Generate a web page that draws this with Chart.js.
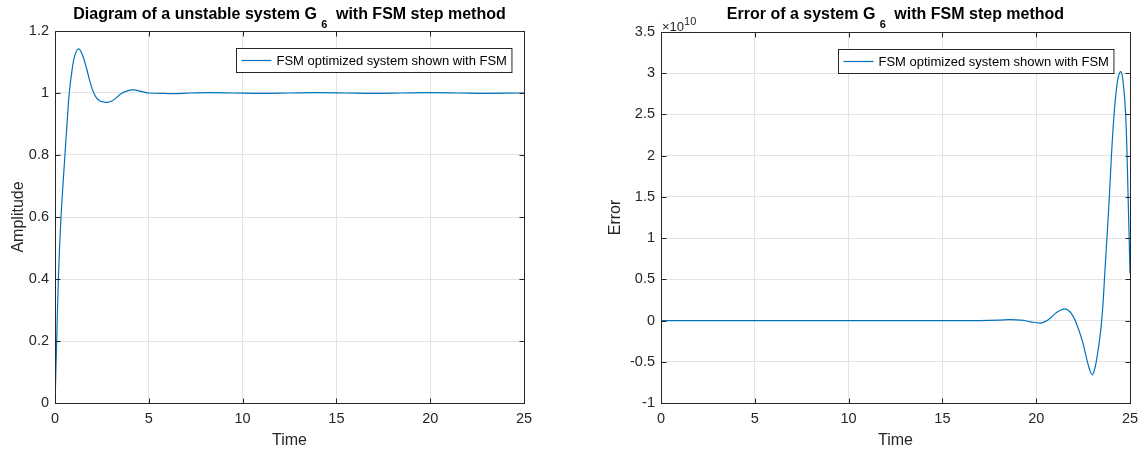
<!DOCTYPE html>
<html>
<head>
<meta charset="utf-8">
<script src="https://cdn.jsdelivr.net/npm/chart.js@4.4.1/dist/chart.umd.min.js"></script>
<style>
  body { margin: 0; background: #fff; }
  .box { position: absolute; top: 0; height: 454px; }
</style>
</head>
<body>
<div class="box" style="left:0;width:574px"><canvas id="stepChart" width="574" height="454"></canvas></div>
<div class="box" style="left:574px;width:573px"><canvas id="errorChart" width="573" height="454"></canvas></div>
<script>
// --- data ---
const timeTicks = [0, 5, 10, 15, 20, 25];
const amplitudeTicks = [0, 0.2, 0.4, 0.6, 0.8, 1, 1.2];
const errorTicks = [-1, -0.5, 0, 0.5, 1, 1.5, 2, 2.5, 3, 3.5]; // x 10^10

const stepTime = [0, 0.09, 0.18, 0.32, 0.53, 0.64, 0.76, 0.9, 1.05, 1.25, 1.45, 1.7, 1.85, 2.0, 2.2, 2.4, 2.6, 2.81, 3.05, 3.3, 3.5, 3.85, 4.2, 4.6, 5.0, 5.6, 6.3, 7.2, 8.2, 9.5, 11, 12.5, 14, 15.5, 17, 18.5, 20, 21.5, 23, 25];
const stepAmplitude = [0, 0.2, 0.4, 0.6, 0.8, 0.9, 1.0, 1.07, 1.12, 1.142, 1.125, 1.075, 1.04, 1.01, 0.985, 0.974, 0.971, 0.97, 0.975, 0.986, 0.997, 1.007, 1.01, 1.005, 1.0, 0.999, 0.998, 1.0, 1.001, 1.0, 0.999, 1.0, 1.001, 1.0, 0.999, 1.0, 1.001, 1.0, 0.999, 1.0];

const errorTime = [0, 5, 10, 15, 17, 18, 18.6, 19.2, 19.7, 20.2, 20.5, 20.8, 21.1, 21.48, 21.7, 21.86, 22.08, 22.45, 22.73, 22.87, 22.99, 23.1, 23.2, 23.35, 23.47, 23.56, 23.65, 23.77, 23.9, 24.01, 24.15, 24.25, 24.37, 24.5, 24.62, 24.77, 24.9, 25];
const errorE10 = [0, 0, 0, 0, 0, 0.005, 0.012, 0.006, -0.015, -0.03, -0.01, 0.04, 0.1, 0.142, 0.125, 0.09, 0, -0.24, -0.5, -0.61, -0.659, -0.6, -0.5, -0.28, -0.05, 0.2, 0.55, 1.0, 1.5, 2.0, 2.5, 2.75, 2.95, 3.02, 2.92, 2.5, 1.5, 0.57];

const seriesLabel = 'FSM optimized system shown with FSM';

const FONT = "'Liberation Sans', Arial, Helvetica, sans-serif";
const INK = '#262626';
const LINE = '#0072BD';
const GRID = '#e3e3e3';

// matlab-ish frame: box, inward ticks, title with subscript, legend, exponent
const matlabFrame = {
  id: 'matlabFrame',
  afterDraw(chart, args, opts) {
    const { ctx, chartArea: a, scales: { x, y } } = chart;
    const L = Math.round(a.left) + 0.5, R = Math.round(a.right) + 0.5;
    const T = Math.round(a.top) + 0.5, B = Math.round(a.bottom) + 0.5;
    ctx.save();
    ctx.strokeStyle = INK;
    ctx.lineWidth = 1;
    ctx.beginPath();
    x.ticks.forEach(t => {
      const px = Math.round(x.getPixelForValue(t.value)) + 0.5;
      ctx.moveTo(px, B); ctx.lineTo(px, B - 5);
      ctx.moveTo(px, T); ctx.lineTo(px, T + 5);
    });
    y.ticks.forEach(t => {
      const py = Math.round(y.getPixelForValue(t.value)) + 0.5;
      ctx.moveTo(L, py); ctx.lineTo(L + 5, py);
      ctx.moveTo(R, py); ctx.lineTo(R - 5, py);
    });
    ctx.stroke();
    ctx.strokeRect(L, T, R - L, B - T);

    // title with subscript
    ctx.fillStyle = '#000';
    ctx.textBaseline = 'alphabetic';
    ctx.textAlign = 'left';
    const big = 'bold 16px ' + FONT, small = 'bold 11px ' + FONT;
    ctx.font = big;
    const w1 = ctx.measureText(opts.title[0]).width;
    const w3 = ctx.measureText(opts.title[2]).width;
    ctx.font = small;
    const w2 = ctx.measureText(opts.title[1]).width;
    const cx = (a.left + a.right) / 2;
    const tx = cx - (w1 + w2 + 4 + w3) / 2;
    ctx.font = big;
    ctx.fillText(opts.title[0], tx, 19);
    ctx.font = small;
    ctx.fillText(opts.title[1], tx + w1, 28);
    ctx.font = big;
    ctx.fillText(opts.title[2], tx + w1 + w2 + 4, 19);

    // legend box
    ctx.font = '13px ' + FONT;
    const lw = ctx.measureText(seriesLabel).width;
    const bw = lw + 45, bh = 24;
    const bx = Math.round(a.right - opts.legendGap - bw) + 0.5;
    const by = Math.round(a.top + 17) + 0.5;
    ctx.fillStyle = '#fff';
    ctx.fillRect(bx, by, bw, bh);
    ctx.strokeStyle = INK;
    ctx.strokeRect(bx, by, bw, bh);
    ctx.strokeStyle = LINE;
    ctx.lineWidth = 1.2;
    ctx.beginPath();
    ctx.moveTo(bx + 5, by + bh / 2);
    ctx.lineTo(bx + 35, by + bh / 2);
    ctx.stroke();
    ctx.fillStyle = '#000';
    ctx.textBaseline = 'middle';
    ctx.fillText(seriesLabel, bx + 40, by + bh / 2 + 1);

    // exponent label
    if (opts.exponent) {
      ctx.fillStyle = INK;
      ctx.textBaseline = 'alphabetic';
      ctx.font = '13px ' + FONT;
      const ex = a.left + 1;
      ctx.fillText('\u00d710', ex, a.top - 1);
      const ew = ctx.measureText('\u00d710').width;
      ctx.font = '11px ' + FONT;
      ctx.fillText(opts.exponent, ex + ew, a.top - 7);
    }
    ctx.restore();
  }
};

function fmt(v) {
  return String(Number(v.toFixed(2)));
}

function makeChart(id, xs, ys, yTicks, yMin, yMax, yTitle, frame, layoutPad, yWidth, yTitlePad) {
  const ctx = document.getElementById(id).getContext('2d');
  return new Chart(ctx, {
    type: 'line',
    data: {
      datasets: [{
        label: seriesLabel,
        data: xs.map((t, i) => ({ x: t, y: ys[i] })),
        borderColor: LINE,
        borderWidth: 1.2,
        pointRadius: 0,
        fill: false,
        tension: 0.35
      }]
    },
    options: {
      responsive: false,
      animation: false,
      layout: { padding: layoutPad },
      plugins: {
        legend: { display: false },
        title: { display: false },
        tooltip: { enabled: false },
        matlabFrame: frame
      },
      scales: {
        x: {
          type: 'linear',
          min: 0,
          max: 25,
          afterBuildTicks: s => { s.ticks = timeTicks.map(v => ({ value: v })); },
          afterFit: s => { s.height = 51; },
          grid: { color: GRID, drawTicks: false },
          border: { display: false },
          ticks: { color: INK, font: { family: FONT, size: 14.5 }, padding: 7, maxRotation: 0, callback: v => fmt(v) },
          title: { display: true, text: 'Time', color: INK, font: { family: FONT, size: 16 }, padding: { top: 0, bottom: 4 } }
        },
        y: {
          type: 'linear',
          min: yMin,
          max: yMax,
          afterBuildTicks: s => { s.ticks = yTicks.map(v => ({ value: v })); },
          afterFit: s => { s.width = yWidth; },
          grid: { color: GRID, drawTicks: false },
          border: { display: false },
          ticks: { color: INK, font: { family: FONT, size: 14.5 }, padding: 6, callback: v => fmt(v) },
          title: { display: true, text: yTitle, color: INK, font: { family: FONT, size: 16 }, padding: { top: yTitlePad, bottom: 0 } }
        }
      }
    },
    plugins: [matlabFrame]
  });
}

makeChart('stepChart', stepTime, stepAmplitude, amplitudeTicks, 0, 1.2, 'Amplitude',
  { title: ['Diagram of a unstable system G ', '6', ' with FSM step method'], legendGap: 13 },
  { top: 31, right: 50, bottom: 0, left: 0 }, 55, 9);

makeChart('errorChart', errorTime, errorE10, errorTicks, -1, 3.5, 'Error',
  { title: ['Error of a system G ', '6', ' with FSM step method'], legendGap: 17, exponent: '10' },
  { top: 32, right: 17, bottom: 0, left: 0 }, 87, 32);
</script>
</body>
</html>
